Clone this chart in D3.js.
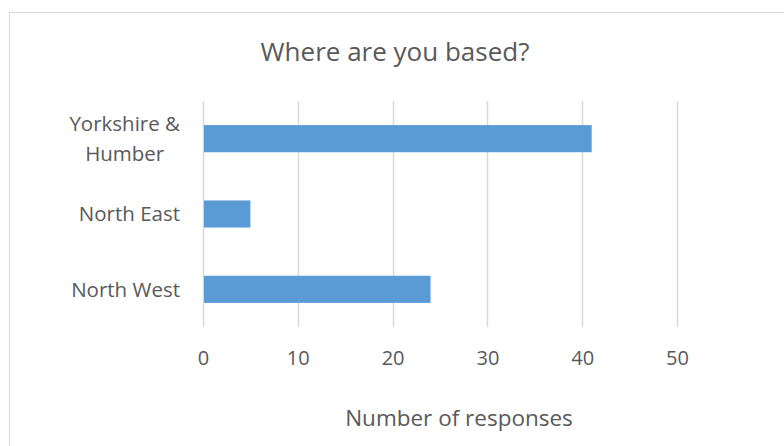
<!DOCTYPE html>
<html>
<head>
<meta charset="utf-8">
<script src="https://cdn.jsdelivr.net/npm/d3@7"></script>
<style>
  body { margin: 0; background: #fff; }
  text { font-family: "Open Sans", "Noto Sans", sans-serif; fill: #595959; }
</style>
</head>
<body>
<svg id="chart" width="784" height="446"></svg>
<script>
// data
var categories = ["Yorkshire & Humber", "North East", "North West"];
var responses = [41, 5, 24];
var xTicks = [0, 10, 20, 30, 40, 50];

var svg = d3.select("#chart");
var W = 784, H = 446;
var margin = {top: 101, right: 107, bottom: 119, left: 203};

// outer chart border (runs off the right and bottom edge, like the crop)
svg.append("rect")
    .attr("x", 9.5).attr("y", 12.5)
    .attr("width", 790).attr("height", 450)
    .attr("fill", "none")
    .attr("stroke", "#d9d9d9");

var x = d3.scaleLinear().domain([0, 50]).range([margin.left, W - margin.right]);
var y = d3.scaleBand().domain(categories)
    .range([margin.top, H - margin.bottom])
    .paddingInner(0.64).paddingOuter(0.32);

// gridlines
svg.append("g").selectAll("line")
    .data(xTicks)
    .join("line")
    .attr("x1", function(d) { return Math.round(x(d)) + 0.5; })
    .attr("x2", function(d) { return Math.round(x(d)) + 0.5; })
    .attr("y1", margin.top)
    .attr("y2", H - margin.bottom)
    .attr("stroke", "#d9d9d9")
    .attr("stroke-width", 1.5);

// bars
svg.append("g").selectAll("rect")
    .data(categories)
    .join("rect")
    .attr("x", x(0) + 1)
    .attr("y", function(d) { return y(d); })
    .attr("width", function(d, i) { return x(responses[i]) - x(0) - 1; })
    .attr("height", y.bandwidth())
    .attr("fill", "#5b9bd5");

// x tick labels
var xAxis = d3.axisBottom(x).tickValues(xTicks).tickSize(0).tickPadding(0);
var gx = svg.append("g")
    .attr("transform", "translate(0," + (H - margin.bottom + 31) + ")")
    .call(xAxis);
gx.select(".domain").remove();
gx.selectAll("text")
    .attr("font-size", 20)
    .attr("dy", "0.35em")
    .style("font-family", null);

// category labels; wrapped lines are centred on each other, block right-aligned
var labelLines = {"Yorkshire & Humber": ["Yorkshire &", "Humber"]};
var labelRight = 180, lh = 30;
var gy = svg.append("g");
categories.forEach(function(c) {
    var lines = labelLines[c] || [c];
    var cy = y(c) + y.bandwidth() / 2;
    var t = gy.append("text")
        .attr("font-size", 20.5);
    var spans = lines.map(function(l, j) {
        return t.append("tspan")
            .attr("y", cy + (j - (lines.length - 1) / 2) * lh)
            .attr("dy", "0.35em")
            .text(l);
    });
    var maxW = d3.max(spans, function(s) { return s.node().getComputedTextLength(); });
    t.attr("text-anchor", "middle");
    spans.forEach(function(s) { s.attr("x", labelRight - maxW / 2); });
});

// title
svg.append("text")
    .attr("x", 395).attr("y", 52)
    .attr("dy", "0.35em")
    .attr("text-anchor", "middle")
    .attr("font-size", 26)
    .text("Where are you based?");

// axis title
svg.append("text")
    .attr("x", 459).attr("y", 418)
    .attr("dy", "0.35em")
    .attr("text-anchor", "middle")
    .attr("font-size", 22.5)
    .text("Number of responses");
</script>
</body>
</html>
